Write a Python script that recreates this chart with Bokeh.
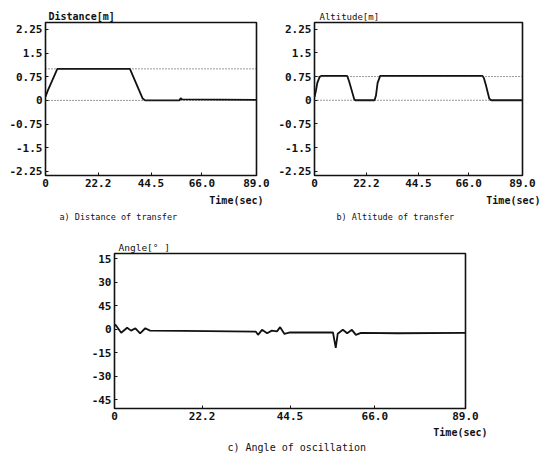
from bokeh.plotting import figure
from bokeh.layouts import column, row
from bokeh.models import Span, Title, FixedTicker
from bokeh.embed import file_html
from bokeh.resources import INLINE

# ---------------- data ----------------
time_ticks = [0, 22.2, 44.5, 66.0, 89.0]
time_tick_labels = ["0", "22.2", "44.5", "66.0", "89.0"]

# a) Distance of transfer [m]
dist_t = [0, 1.0, 5.0, 35.6, 41.0, 42.0, 56.5, 57.0, 57.6, 89.0]
dist_v = [0.12, 0.32, 1.0, 1.0, 0.06, 0.0, 0.0, 0.07, 0.03, 0.02]
dist_ref_levels = [1.0, 0.0]

# b) Altitude of transfer [m]
alt_t = [0, 0.6, 1.2, 2.2, 3.0, 14.0, 14.8, 17.0, 17.5, 25.7, 26.3, 27.0, 28.1,
         71.9, 72.5, 73.3, 74.8, 75.6, 89.0]
alt_v = [0.1, 0.3, 0.55, 0.74, 0.77, 0.77, 0.6, 0.03, 0.0, 0.0, 0.15, 0.55, 0.77,
         0.77, 0.7, 0.49, 0.05, 0.0, 0.0]
alt_ref_levels = [0.75, 0.0]

distalt_ticks = [2.25, 1.5, 0.75, 0, -0.75, -1.5, -2.25]
distalt_tick_labels = ["2.25", "1.5", "0.75", "0", "-0.75", "-1.5", "-2.25"]

# c) Angle of oscillation [deg]
ang_t = [0, 0.25, 1.7, 3.2, 4.2, 5.3, 6.5, 7.8, 9.0, 17.4, 35.8, 36.4, 37.4, 38.7,
         39.9, 41.2, 42.0, 43.1, 44.5, 55.4, 56.1, 56.6, 57.9, 59.0, 60.2, 61.2,
         62.5, 71.7, 89.0]
ang_v = [2.2, 2.7, -2.4, 0.8, -1.0, 0.5, -2.7, 0.5, -1.0, -1.2, -1.6, -3.7, -0.5,
         -2.7, -1.0, -1.5, 1.2, -3.1, -2.2, -2.2, -12.0, -3.0, -0.5, -2.7, -0.5,
         -3.7, -2.4, -2.7, -2.4]
ang_ticks = [45, 30, 15, 0, -15, -30, -45]
ang_tick_labels = ["15", "30", "45", "0", "-15", "-30", "-45"]

MONO = "DejaVu Sans Mono"
INK = "#111111"


def make_fig(w, h, xr, yr, bl, br, bt, bb, yticks, ylabels):
    p = figure(width=w, height=h, x_range=xr, y_range=yr, title=None,
               output_backend="svg", toolbar_location=None,
               min_border_left=bl, min_border_right=br,
               min_border_top=bt, min_border_bottom=bb)
    p.background_fill_color = "white"
    p.border_fill_color = "white"
    p.outline_line_color = INK
    p.outline_line_width = 1.6
    p.grid.visible = False
    p.xaxis.ticker = FixedTicker(ticks=time_ticks)
    p.xaxis.major_label_overrides = {t: l for t, l in zip(time_ticks, time_tick_labels)}
    p.yaxis.ticker = FixedTicker(ticks=yticks)
    p.yaxis.major_label_overrides = {t: l for t, l in zip(yticks, ylabels)}
    for ax in (p.xaxis[0], p.yaxis[0]):
        ax.axis_line_color = None
        ax.major_tick_in = 3
        ax.major_tick_out = 0
        ax.major_tick_line_color = INK
        ax.minor_tick_line_color = None
        ax.major_label_text_font = MONO
        ax.major_label_text_font_style = "bold"
        ax.major_label_text_font_size = "11px"
        ax.major_label_text_color = INK
        ax.major_label_standoff = 3
    return p


def add_texts(p, ylab, ylab_off, ylab_bold, ylab_size, time_off, time_standoff,
              caption, cap_off, cap_standoff, cap_size):
    p.add_layout(Title(text=ylab, align="left", offset=ylab_off, standoff=1,
                       text_font=MONO, text_font_size=ylab_size,
                       text_font_style="bold" if ylab_bold else "normal",
                       text_color=INK), "above")
    p.add_layout(Title(text="Time(sec)", align="right", offset=time_off,
                       standoff=time_standoff,
                       text_font=MONO, text_font_size="10px", text_font_style="bold",
                       text_color=INK), "below")
    p.add_layout(Title(text=caption, align="left", offset=cap_off, standoff=cap_standoff,
                       text_font=MONO, text_font_size=cap_size, text_font_style="normal",
                       text_color=INK), "below")


# ---- plot a ----
pa = make_fig(275, 226, (0, 89), (-2.38, 2.47), 45, 19, 21, 51,
              distalt_ticks, distalt_tick_labels)
for lv in dist_ref_levels:
    pa.add_layout(Span(location=lv, dimension="width", line_color="#333333",
                       line_width=1, line_dash="1 2"))
pa.line(dist_t, dist_v, line_color=INK, line_width=1.8)
add_texts(pa, "Distance[m]", 3, True, "10px", -7, 7,
          "a) Distance of transfer", 14, 1, "8.5px")

# ---- plot b ----
pb = make_fig(275, 226, (0, 89), (-2.38, 2.46), 37, 28, 22, 51,
              distalt_ticks, distalt_tick_labels)
for lv in alt_ref_levels:
    pb.add_layout(Span(location=lv, dimension="width", line_color="#333333",
                       line_width=1, line_dash="1 2"))
pb.line(alt_t, alt_v, line_color=INK, line_width=1.8)
add_texts(pb, "Altitude[m]", 5, False, "9px", -18, 7,
          "b) Altitude of transfer", 22, 1, "8.5px")

# ---- plot c ----
pc = make_fig(550, 227, (0, 89), (-50.7, 48.2), 114, 85, 27, 45,
              ang_ticks, ang_tick_labels)
pc.line(ang_t, ang_v, line_color=INK, line_width=1.8)
add_texts(pc, "Angle[° ]", 4, False, "9.5px", -22, 4,
          "c) Angle of oscillation", 113, 1, "10px")

layout = column(row(pa, pb), pc)
open("out.html", "w").write(file_html(layout, INLINE))
